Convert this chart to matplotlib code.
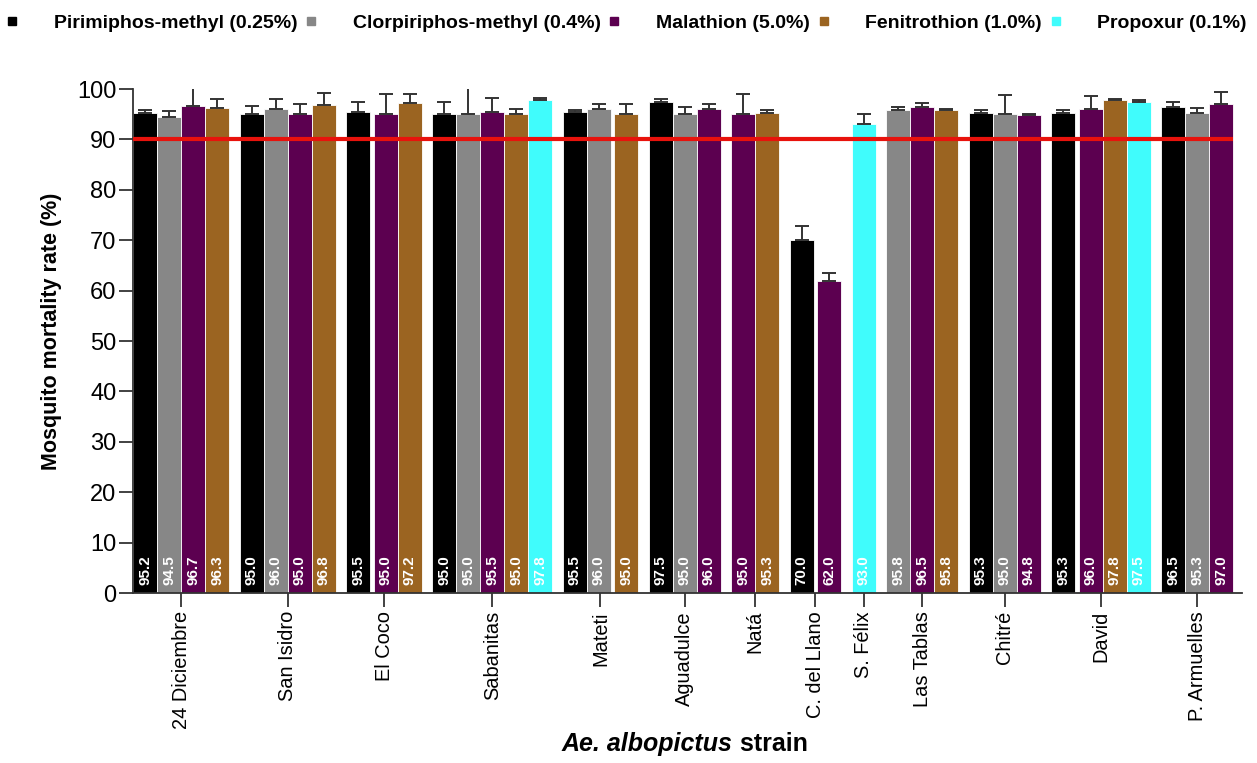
import matplotlib
matplotlib.use("Agg")
import matplotlib.pyplot as plt
from matplotlib.lines import Line2D

plt.rcParams['font.family'] = ['Liberation Sans', 'DejaVu Sans']

# ---------------- data ----------------
strains = ["24 Diciembre", "San Isidro", "El Coco", "Sabanitas", "Mateti", "Aguadulce",
           "Natá", "C. del Llano", "S. Félix", "Las Tablas", "Chitré", "David", "P. Armuelles"]

series_names = ["Pirimiphos-methyl (0.25%)", "Clorpiriphos-methyl (0.4%)",
                "Malathion (5.0%)", "Fenitrothion (1.0%)", "Propoxur (0.1%)"]

pirimiphos   = [95.2, 95.0, 95.5, 95.0, 95.5, 97.5, None, 70.0, None, None, 95.3, 95.3, 96.5]
clorpiriphos = [94.5, 96.0, None, 95.0, 96.0, 95.0, None, None, None, 95.8, 95.0, None, 95.3]
malathion    = [96.7, 95.0, 95.0, 95.5, None, 96.0, 95.0, 62.0, None, 96.5, 94.8, 96.0, 97.0]
fenitrothion = [96.3, 96.8, 97.2, 95.0, 95.0, None, 95.3, None, None, 95.8, None, 97.8, None]
propoxur     = [None, None, None, 97.8, None, None, None, None, 93.0, None, None, 97.5, None]

pirimiphos_err   = [0.6, 1.7, 2.0, 2.5, 0.3, 0.6, None, 2.8, None, None, 0.5, 0.5, 1.0]
clorpiriphos_err = [1.2, 2.0, None, 5.5, 1.1, 1.4, None, None, None, 0.6, 3.8, None, 1.0]
malathion_err    = [3.5, 2.0, 4.1, 2.7, None, 1.0, 4.0, 1.4, None, 0.7, 0.3, 2.6, 2.5]
fenitrothion_err = [1.7, 2.5, 1.9, 1.0, 2.0, None, 0.5, None, None, 0.2, None, 0.2, None]
propoxur_err     = [None, None, None, 0.4, None, None, None, None, 2.1, None, None, 0.4, None]

threshold = 90

yticks = list(range(0, 101, 10))

# ---------------- styles ----------------
colors = ["#000000", "#878787", "#5c0050", "#9b6421", "#40fcfc"]
values = [pirimiphos, clorpiriphos, malathion, fenitrothion, propoxur]
errors = [pirimiphos_err, clorpiriphos_err, malathion_err, fenitrothion_err, propoxur_err]

BAR = 1.0
INNER_GAP = 0.15
GROUP_GAP = 0.44

# layout: bars contiguous within a group, small gap for an interior missing series
positions = [[None] * len(strains) for _ in values]
centers = []
x = 0.0
for g in range(len(strains)):
    present = [s for s in range(len(values)) if values[s][g] is not None]
    start = x
    for s in range(present[0], present[-1] + 1):
        if values[s][g] is None:
            x += INNER_GAP
        else:
            positions[s][g] = x + BAR / 2
            x += BAR
    centers.append((start + x) / 2)
    x += GROUP_GAP
last_end = x - GROUP_GAP

fig = plt.figure(figsize=(12.57, 7.63), dpi=100)
ax = fig.add_axes([133 / 1257, 1 - 593 / 763, (1242 - 133) / 1257, (593 - 89) / 763])

for s in range(len(values)):
    xs, hs, es = [], [], []
    for g in range(len(strains)):
        if values[s][g] is not None:
            xs.append(positions[s][g])
            hs.append(values[s][g])
            es.append(errors[s][g] if errors[s][g] is not None else 0)
    ax.bar(xs, hs, width=BAR, color=colors[s], edgecolor="white", linewidth=0.6, zorder=2)
    ax.errorbar(xs, hs, yerr=[[0] * len(es), es], fmt="none", ecolor="#333333",
                elinewidth=1.4, capsize=4.7, capthick=1.4, zorder=3)
    for xv, hv in zip(xs, hs):
        ax.text(xv, 1.5, f"{hv:.1f}", rotation=90, ha="center", va="bottom",
                color="white", fontsize=11, fontweight="bold", zorder=5)

ax.hlines(threshold, 0, last_end, colors="#e8120c", linewidth=3, zorder=4)

ax.set_xlim(-0.02, last_end + 0.37)
ax.set_ylim(0, 100)
ax.set_yticks(yticks)
ax.set_xticks(centers)
ax.set_xticklabels(strains, rotation=90, fontsize=14.4)
ax.tick_params(axis="y", labelsize=17, length=10, width=1.3, color="#333333", pad=2)
ax.tick_params(axis="x", length=10, width=1.3, color="#333333", pad=3)

for sp in ["top", "right"]:
    ax.spines[sp].set_visible(False)
for sp in ["left", "bottom"]:
    ax.spines[sp].set_color("#333333")
    ax.spines[sp].set_linewidth(1.3)

ax.set_ylabel("Mosquito mortality rate (%)", fontsize=15.5, fontweight="bold")
ax.yaxis.set_label_coords(-0.064, 0.52)

# x label: italic bold species name + bold "strain"
fig.canvas.draw()
r = fig.canvas.get_renderer()
t1 = fig.text(0, 0.025, "Ae. albopictus", fontsize=18, fontweight="bold", style="italic",
              va="center", ha="left")
t2 = fig.text(0, 0.025, " strain", fontsize=18, fontweight="bold", va="center", ha="left")
w1 = t1.get_window_extent(r).width
w2 = t2.get_window_extent(r).width
cx = 684.5
x0 = cx - (w1 + w2) / 2
t1.set_x(x0 / 1257)
t2.set_x((x0 + w1) / 1257)

handles = [Line2D([], [], marker="s", linestyle="none", markersize=6, color=c) for c in colors]
leg = fig.legend(handles, series_names, loc="center left", bbox_to_anchor=(4 / 1257, 1 - 23 / 763),
                 ncol=5, frameon=False, handlelength=0.8, handletextpad=1.75, columnspacing=0.3,
                 borderpad=0, borderaxespad=0, prop={"size": 14.0, "weight": "bold"})

fig.savefig("out.png", dpi=100)
